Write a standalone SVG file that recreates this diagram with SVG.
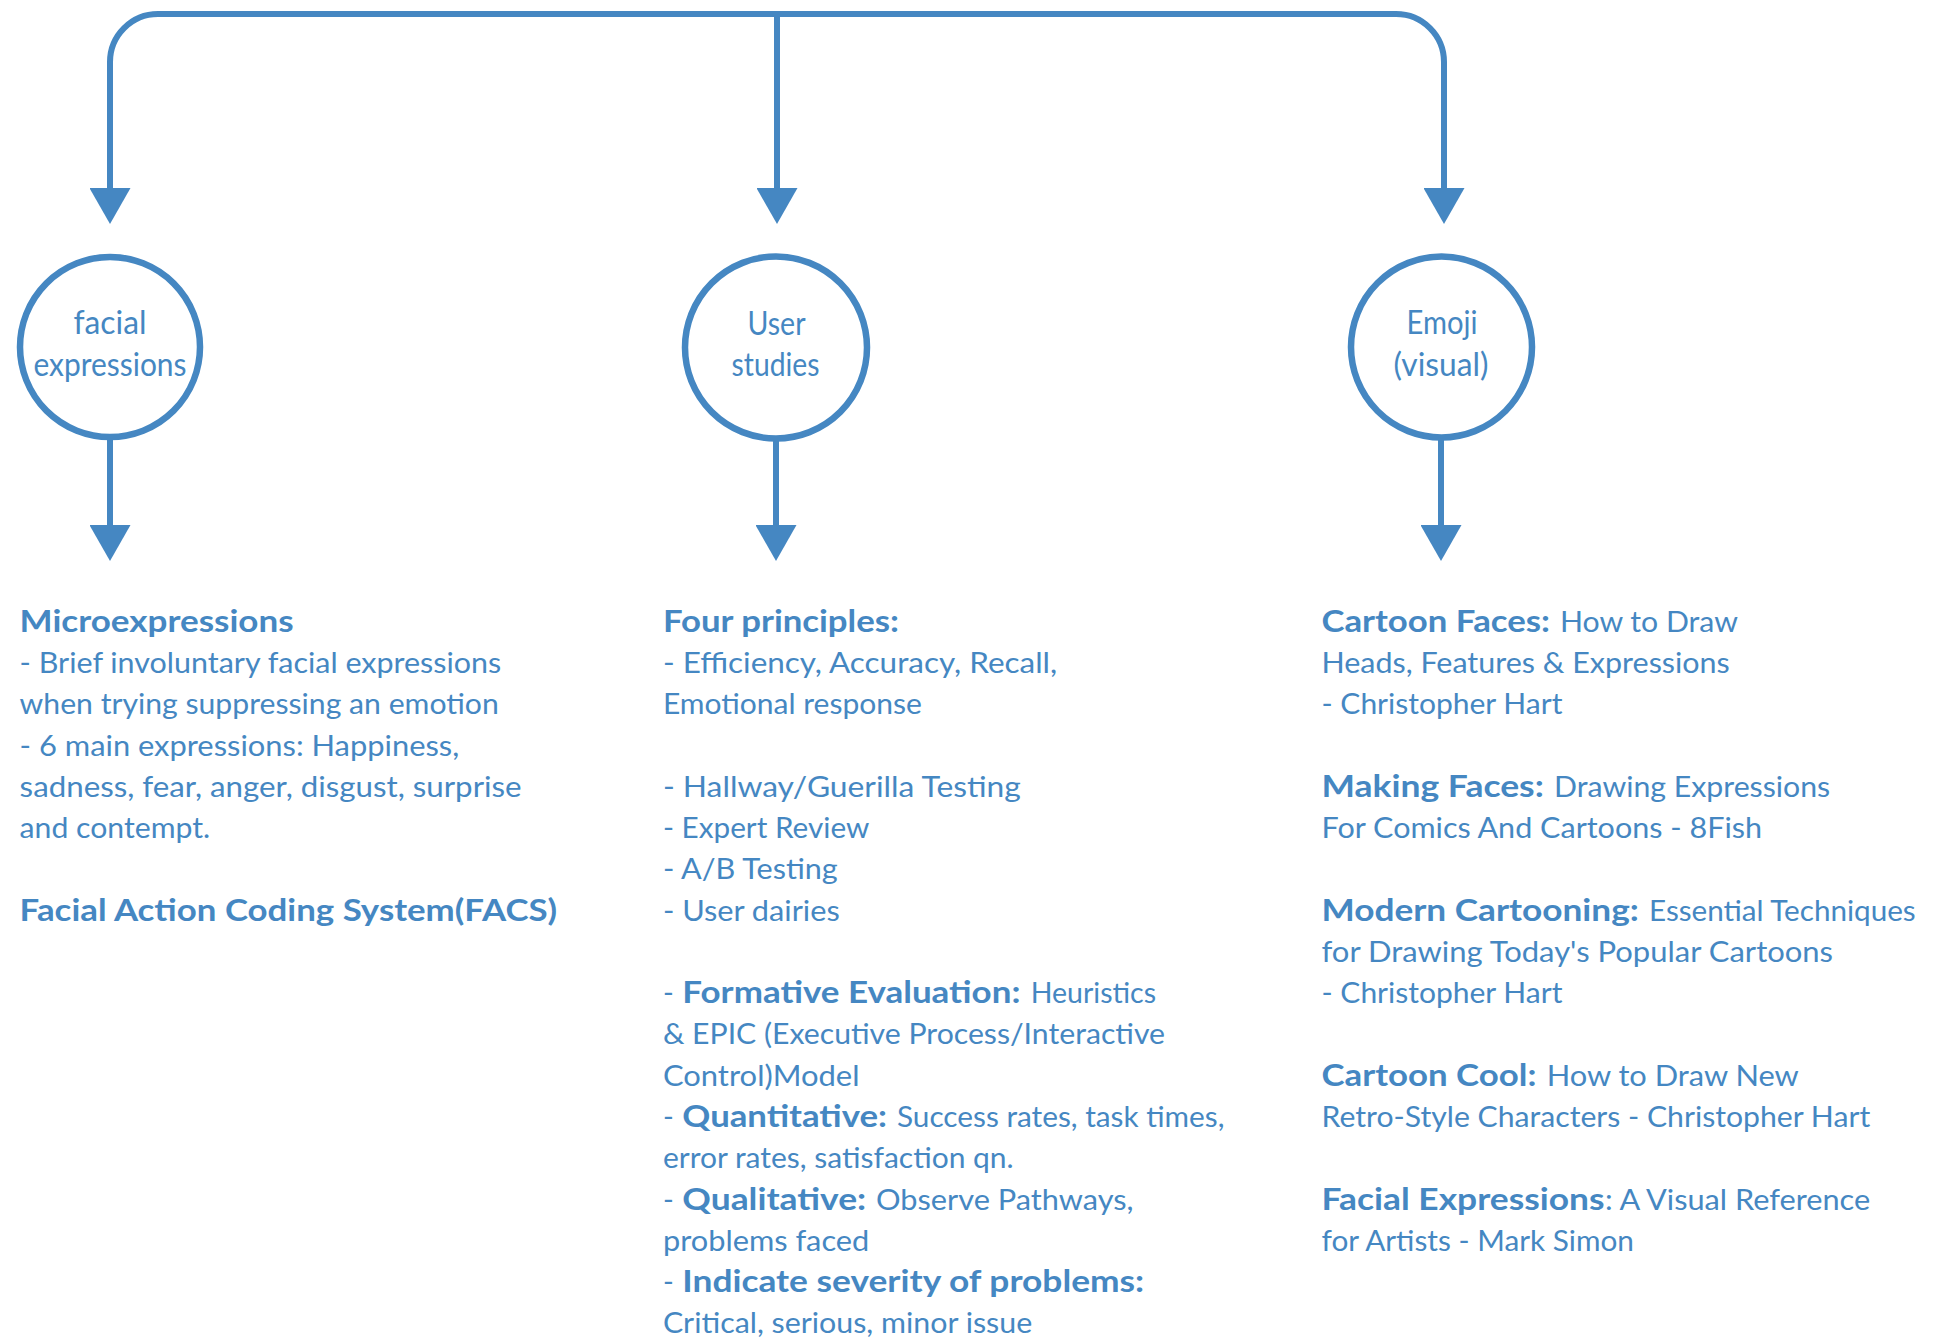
<svg xmlns="http://www.w3.org/2000/svg" width="1948" height="1340" viewBox="0 0 1948 1340">
<style>
.bg{fill:#ffffff}
.ln{fill:none;stroke:#4587C2;stroke-width:6}
.nd{fill:#ffffff;stroke:#4587C2;stroke-width:6.5}
.ct{font-family:Lato,"Open Sans",sans-serif;font-size:32px;fill:#4587C2;text-anchor:middle}
.r{font-family:Lato,"Open Sans",sans-serif;font-size:29px;fill:#4587C2}
.b{font-family:Lato,"Open Sans",sans-serif;font-size:30px;font-weight:700;fill:#4587C2}
</style>
<defs>
<marker id="ah" markerUnits="userSpaceOnUse" markerWidth="37" markerHeight="41" viewBox="0 0 37 41" refX="1" refY="20.5" orient="auto">
<path d="M0,0 L36,20.5 L0,41 z" fill="#4587C2"/>
</marker>
</defs>
<rect class="bg" x="0" y="0" width="1948" height="1340"/>
<g id="connectors">
<path class="ln" d="M777,14 L158,14 A48,48 0 0 0 110,62 L110,189" marker-end="url(#ah)"/>
<path class="ln" d="M777,14 L1396,14 A48,48 0 0 1 1444,62 L1444,189" marker-end="url(#ah)"/>
<path class="ln" d="M777,14 L777,189" marker-end="url(#ah)"/>
<path class="ln" d="M110,440 L110,526" marker-end="url(#ah)"/>
<path class="ln" d="M776,441 L776,526" marker-end="url(#ah)"/>
<path class="ln" d="M1441,440 L1441,526" marker-end="url(#ah)"/>
</g>
<g id="node-facial">
<circle class="nd" cx="110" cy="347" r="90"/>
<text class="ct" x="110" y="334" textLength="73" lengthAdjust="spacingAndGlyphs">facial</text>
<text class="ct" x="110" y="376" textLength="153" lengthAdjust="spacingAndGlyphs">expressions</text>
</g>
<g id="node-user">
<circle class="nd" cx="776" cy="347.5" r="91"/>
<text class="ct" x="776.5" y="335" textLength="58" lengthAdjust="spacingAndGlyphs">User</text>
<text class="ct" x="775.5" y="376" textLength="88" lengthAdjust="spacingAndGlyphs">studies</text>
</g>
<g id="node-emoji">
<circle class="nd" cx="1441.5" cy="347" r="90.5"/>
<text class="ct" x="1442" y="334" textLength="71" lengthAdjust="spacingAndGlyphs">Emoji</text>
<text class="ct" x="1441" y="376" textLength="95" lengthAdjust="spacingAndGlyphs">(visual)</text>
</g>
<g id="text-facial">
<text class="b" x="19.6" y="631.7" textLength="274" lengthAdjust="spacingAndGlyphs">Microexpressions</text>
<text class="r" x="19.6" y="673" textLength="481.6" lengthAdjust="spacingAndGlyphs">- Brief involuntary facial expressions</text>
<text class="r" x="19.6" y="714.2" textLength="479.2" lengthAdjust="spacingAndGlyphs">when trying suppressing an emotion</text>
<text class="r" x="19.6" y="755.5" textLength="439.6" lengthAdjust="spacingAndGlyphs">- 6 main expressions: Happiness,</text>
<text class="r" x="19.6" y="796.8" textLength="502" lengthAdjust="spacingAndGlyphs">sadness, fear, anger, disgust, surprise</text>
<text class="r" x="19.6" y="838.1" textLength="190.6" lengthAdjust="spacingAndGlyphs">and contempt.</text>
<text class="b" x="19.6" y="920.6" textLength="537.5" lengthAdjust="spacingAndGlyphs">Facial Action Coding System(FACS)</text>
</g>
<g id="text-user">
<text class="b" x="662.9" y="631.7" textLength="236.1" lengthAdjust="spacingAndGlyphs">Four principles:</text>
<text class="r" x="662.9" y="673" textLength="394.3" lengthAdjust="spacingAndGlyphs">- Efficiency, Accuracy, Recall,</text>
<text class="r" x="662.9" y="714.2" textLength="259" lengthAdjust="spacingAndGlyphs">Emotional response</text>
<text class="r" x="662.9" y="796.8" textLength="357.9" lengthAdjust="spacingAndGlyphs">- Hallway/Guerilla Testing</text>
<text class="r" x="662.9" y="838.1" textLength="206.4" lengthAdjust="spacingAndGlyphs">- Expert Review</text>
<text class="r" x="662.9" y="879.3" textLength="174.8" lengthAdjust="spacingAndGlyphs">- A/B Testing</text>
<text class="r" x="662.9" y="920.6" textLength="176.8" lengthAdjust="spacingAndGlyphs">- User dairies</text>
<text class="r" x="662.9" y="1003.1">-</text>
<text class="b" x="682.3" y="1003.1" textLength="338.1" lengthAdjust="spacingAndGlyphs">Formative Evaluation:</text>
<text class="r" x="1030.7" y="1003.1" textLength="125.3" lengthAdjust="spacingAndGlyphs">Heuristics</text>
<text class="r" x="662.9" y="1044.4" textLength="502.1" lengthAdjust="spacingAndGlyphs">&amp; EPIC (Executive Process/Interactive</text>
<text class="r" x="662.9" y="1085.7" textLength="196.6" lengthAdjust="spacingAndGlyphs">Control)Model</text>
<text class="r" x="662.9" y="1126.9">-</text>
<text class="b" x="682.3" y="1126.9" textLength="204.7" lengthAdjust="spacingAndGlyphs">Quantitative:</text>
<text class="r" x="897" y="1126.9" textLength="327.4" lengthAdjust="spacingAndGlyphs">Success rates, task times,</text>
<text class="r" x="662.9" y="1168.2" textLength="350.8" lengthAdjust="spacingAndGlyphs">error rates, satisfaction qn.</text>
<text class="r" x="662.9" y="1209.5">-</text>
<text class="b" x="682.3" y="1209.5" textLength="183.9" lengthAdjust="spacingAndGlyphs">Qualitative:</text>
<text class="r" x="876" y="1209.5" textLength="257.5" lengthAdjust="spacingAndGlyphs">Observe Pathways,</text>
<text class="r" x="662.9" y="1250.8" textLength="206.4" lengthAdjust="spacingAndGlyphs">problems faced</text>
<text class="r" x="662.9" y="1292">-</text>
<text class="b" x="682.3" y="1292" textLength="461.9" lengthAdjust="spacingAndGlyphs">Indicate severity of problems:</text>
<text class="r" x="662.9" y="1333.3" textLength="369.3" lengthAdjust="spacingAndGlyphs">Critical, serious, minor issue</text>
</g>
<g id="text-emoji">
<text class="b" x="1321.5" y="631.7" textLength="228.5" lengthAdjust="spacingAndGlyphs">Cartoon Faces:</text>
<text class="r" x="1560" y="631.7" textLength="178" lengthAdjust="spacingAndGlyphs">How to Draw</text>
<text class="r" x="1321.5" y="673" textLength="408.3" lengthAdjust="spacingAndGlyphs">Heads, Features &amp; Expressions</text>
<text class="r" x="1321.5" y="714.2" textLength="240.9" lengthAdjust="spacingAndGlyphs">- Christopher Hart</text>
<text class="b" x="1321.5" y="796.8" textLength="222.3" lengthAdjust="spacingAndGlyphs">Making Faces:</text>
<text class="r" x="1554" y="796.8" textLength="276.2" lengthAdjust="spacingAndGlyphs">Drawing Expressions</text>
<text class="r" x="1321.5" y="838.1" textLength="440.5" lengthAdjust="spacingAndGlyphs">For Comics And Cartoons - 8Fish</text>
<text class="b" x="1321.5" y="920.6" textLength="317.3" lengthAdjust="spacingAndGlyphs">Modern Cartooning:</text>
<text class="r" x="1649" y="920.6" textLength="266.7" lengthAdjust="spacingAndGlyphs">Essential Techniques</text>
<text class="r" x="1321.5" y="961.9" textLength="511.5" lengthAdjust="spacingAndGlyphs">for Drawing Today's Popular Cartoons</text>
<text class="r" x="1321.5" y="1003.1" textLength="240.9" lengthAdjust="spacingAndGlyphs">- Christopher Hart</text>
<text class="b" x="1321.5" y="1085.7" textLength="214.9" lengthAdjust="spacingAndGlyphs">Cartoon Cool:</text>
<text class="r" x="1546.7" y="1085.7" textLength="252.1" lengthAdjust="spacingAndGlyphs">How to Draw New</text>
<text class="r" x="1321.5" y="1126.9" textLength="548.7" lengthAdjust="spacingAndGlyphs">Retro-Style Characters - Christopher Hart</text>
<text class="b" x="1321.5" y="1209.5" textLength="283" lengthAdjust="spacingAndGlyphs">Facial Expressions</text>
<text class="r" x="1605" y="1209.5" textLength="265.2" lengthAdjust="spacingAndGlyphs">: A Visual Reference</text>
<text class="r" x="1321.5" y="1250.8" textLength="312.4" lengthAdjust="spacingAndGlyphs">for Artists - Mark Simon</text>
</g>
</svg>
